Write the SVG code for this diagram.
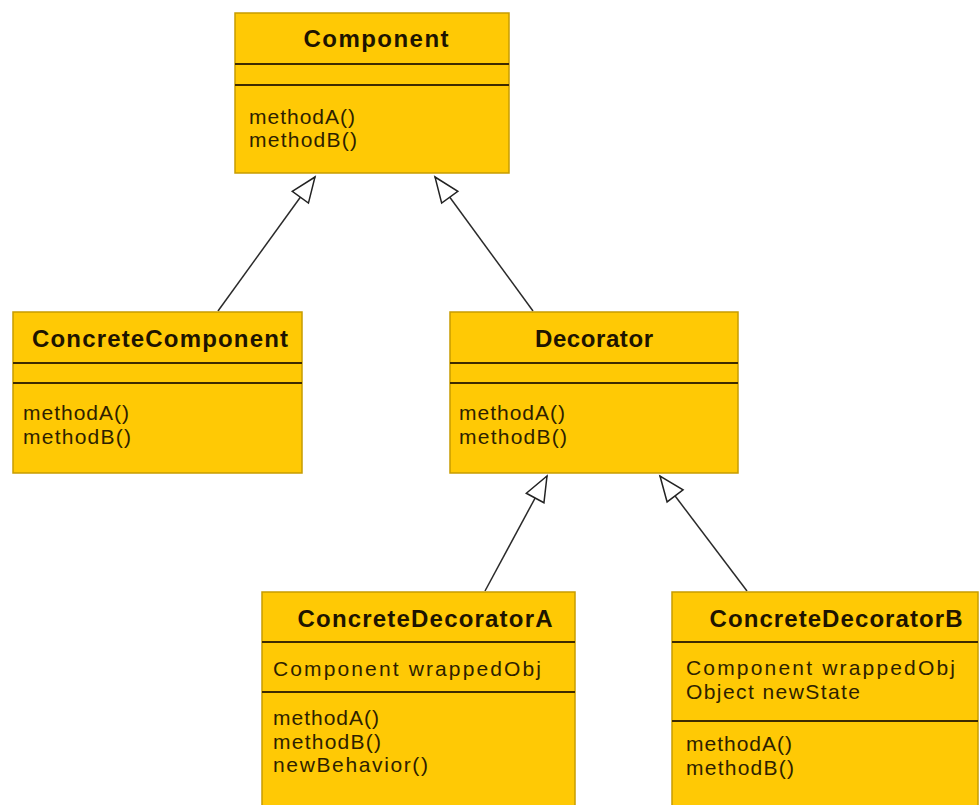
<svg xmlns="http://www.w3.org/2000/svg" width="979" height="805" viewBox="0 0 979 805">
  <style>
    .box { fill: #FFC905; stroke: #C79C00; stroke-width: 1.5; }
    .sep { stroke: #3D2A00; stroke-width: 2; }
    .title { font-family: "Liberation Sans", Arial, sans-serif; font-weight: bold; font-size: 24px; fill: #1E1400; text-anchor: middle; }
    .item { font-family: "Liberation Sans", Arial, sans-serif; font-size: 21px; fill: #2E1F00; }
    .link { stroke: #2A2A2A; stroke-width: 1.5; fill: none; marker-end: url(#inherit); }
  </style>
  <defs>
    <!-- hollow triangle: UML generalization -->
    <marker id="inherit" markerWidth="30" markerHeight="24" refX="26" refY="11" orient="auto" markerUnits="userSpaceOnUse" overflow="visible">
      <path d="M1,1 L26,11 L1,21 Z" fill="#FFFFFF" stroke="#222222" stroke-width="1.5" stroke-linejoin="miter"/>
    </marker>
  </defs>
  <rect width="979" height="805" fill="#FFFFFF"/>

  <g id="connectors">
    <line class="link" x1="218" y1="311" x2="315" y2="177"/>
    <line class="link" x1="533" y1="311" x2="435" y2="177"/>
    <line class="link" x1="485" y1="591" x2="547" y2="476"/>
    <line class="link" x1="747" y1="591" x2="660" y2="476"/>
  </g>

  <g id="component">
    <rect class="box" x="235" y="13" width="274" height="160"/>
    <text class="title" x="376" y="47" textLength="145" lengthAdjust="spacing">Component</text>
    <line class="sep" x1="235" y1="64" x2="509" y2="64"/>
    <line class="sep" x1="235" y1="85" x2="509" y2="85"/>
    <text class="item" x="249" y="123.5" textLength="106" lengthAdjust="spacing">methodA()</text>
    <text class="item" x="249" y="147" textLength="108" lengthAdjust="spacing">methodB()</text>
  </g>

  <g id="concrete-component">
    <rect class="box" x="13" y="312" width="289" height="161"/>
    <text class="title" x="160" y="347" textLength="256" lengthAdjust="spacing">ConcreteComponent</text>
    <line class="sep" x1="13" y1="363" x2="302" y2="363"/>
    <line class="sep" x1="13" y1="383" x2="302" y2="383"/>
    <text class="item" x="23" y="420" textLength="106" lengthAdjust="spacing">methodA()</text>
    <text class="item" x="23" y="443.5" textLength="108" lengthAdjust="spacing">methodB()</text>
  </g>

  <g id="decorator">
    <rect class="box" x="450" y="312" width="288" height="161"/>
    <text class="title" x="594" y="347" textLength="118" lengthAdjust="spacing">Decorator</text>
    <line class="sep" x1="450" y1="363" x2="738" y2="363"/>
    <line class="sep" x1="450" y1="383" x2="738" y2="383"/>
    <text class="item" x="459" y="420" textLength="106" lengthAdjust="spacing">methodA()</text>
    <text class="item" x="459" y="443.5" textLength="108" lengthAdjust="spacing">methodB()</text>
  </g>

  <g id="concrete-decorator-a">
    <rect class="box" x="262" y="592" width="313" height="230"/>
    <text class="title" x="425" y="627" textLength="255" lengthAdjust="spacing">ConcreteDecoratorA</text>
    <line class="sep" x1="262" y1="642" x2="575" y2="642"/>
    <text class="item" x="273" y="676" textLength="268" lengthAdjust="spacing">Component wrappedObj</text>
    <line class="sep" x1="262" y1="692" x2="575" y2="692"/>
    <text class="item" x="273" y="725" textLength="106" lengthAdjust="spacing">methodA()</text>
    <text class="item" x="273" y="748.5" textLength="108" lengthAdjust="spacing">methodB()</text>
    <text class="item" x="273" y="772" textLength="155" lengthAdjust="spacing">newBehavior()</text>
  </g>

  <g id="concrete-decorator-b">
    <rect class="box" x="672" y="592" width="306" height="230"/>
    <text class="title" x="836" y="627" textLength="253" lengthAdjust="spacing">ConcreteDecoratorB</text>
    <line class="sep" x1="672" y1="642" x2="978" y2="642"/>
    <text class="item" x="686" y="675" textLength="269" lengthAdjust="spacing">Component wrappedObj</text>
    <text class="item" x="686" y="698.5" textLength="174" lengthAdjust="spacing">Object newState</text>
    <line class="sep" x1="672" y1="721" x2="978" y2="721"/>
    <text class="item" x="686" y="751" textLength="106" lengthAdjust="spacing">methodA()</text>
    <text class="item" x="686" y="774.5" textLength="108" lengthAdjust="spacing">methodB()</text>
  </g>
</svg>
